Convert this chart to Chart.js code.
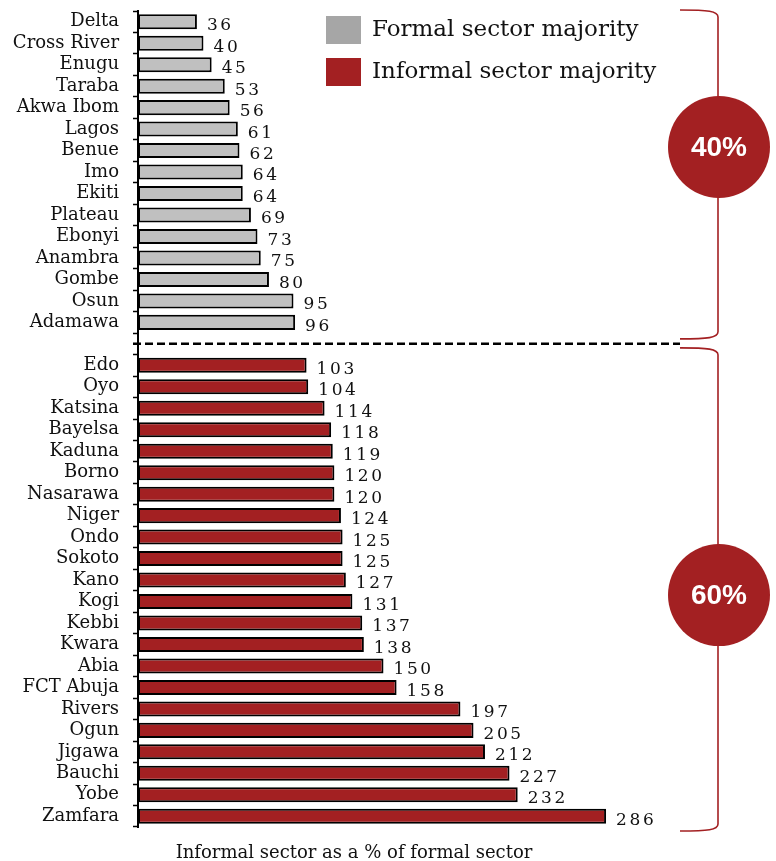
<!DOCTYPE html>
<html>
<head>
<meta charset="utf-8">
<script src="https://cdn.jsdelivr.net/npm/chart.js@4.4.1/dist/chart.umd.min.js"></script>
<style>
  html, body { margin: 0; padding: 0; background: #fff; }
  #wrap { width: 776px; height: 861px; position: relative; }
</style>
</head>
<body>
<div id="wrap"><canvas id="informalChart"></canvas></div>
<script>
// states where the formal sector is bigger
const formalStates = ['Delta', 'Cross River', 'Enugu', 'Taraba', 'Akwa Ibom', 'Lagos', 'Benue', 'Imo',
  'Ekiti', 'Plateau', 'Ebonyi', 'Anambra', 'Gombe', 'Osun', 'Adamawa'];
const formalValues = [36, 40, 45, 53, 56, 61, 62, 64, 64, 69, 73, 75, 80, 95, 96];

// states where the informal sector is bigger
const informalStates = ['Edo', 'Oyo', 'Katsina', 'Bayelsa', 'Kaduna', 'Borno', 'Nasarawa', 'Niger', 'Ondo',
  'Sokoto', 'Kano', 'Kogi', 'Kebbi', 'Kwara', 'Abia', 'FCT Abuja', 'Rivers', 'Ogun', 'Jigawa', 'Bauchi',
  'Yobe', 'Zamfara'];
const informalValues = [103, 104, 114, 118, 119, 120, 120, 124, 125, 125, 127, 131, 137, 138, 150, 158,
  197, 205, 212, 227, 232, 286];

const groupShares = ['40%', '60%'];
const legendLabels = ['Formal sector majority', 'Informal sector majority'];
const axisTitle = 'Informal sector as a % of formal sector';

const GRAY = '#c0c0c0';
const GRAY_LEGEND = '#a6a6a6';
const RED = '#a32022';
const SERIF = '"DejaVu Serif", serif';

// one empty slot between the two groups, the dashed line sits there
const labels = [...formalStates, '', ...informalStates];
const gapIndex = formalStates.length;
const formalData = labels.map((l, i) => (i < gapIndex ? formalValues[i] : null));
const informalData = labels.map((l, i) => (i > gapIndex ? informalValues[i - gapIndex - 1] : null));

// value labels, dashed divider, braces, circles, legend, axis title
const decorations = {
  id: 'decorations',
  afterDatasetsDraw(chart) {
    const ctx = chart.ctx;
    const area = chart.chartArea;
    const y = chart.scales.y;

    // value labels
    ctx.save();
    ctx.font = '17px ' + SERIF;
    ctx.fillStyle = '#111';
    ctx.textBaseline = 'middle';
    ctx.textAlign = 'left';
    ctx.letterSpacing = '2.6px';
    chart.data.datasets.forEach((ds, di) => {
      chart.getDatasetMeta(di).data.forEach((bar, i) => {
        if (ds.data[i] == null) return;
        ctx.fillText(String(ds.data[i]), bar.x + 10, bar.y + 4);
      });
    });
    ctx.restore();

    // dashed divider
    const gapY = y.getPixelForValue(gapIndex);
    ctx.save();
    ctx.strokeStyle = '#000';
    ctx.lineWidth = 2.5;
    ctx.setLineDash([8, 4]);
    ctx.beginPath();
    ctx.moveTo(area.left - 5, gapY);
    ctx.lineTo(area.right + 51, gapY);
    ctx.stroke();
    ctx.restore();

    // braces
    const bx = area.right + 89;
    const x0 = area.right + 51;
    const brace = (top, bottom) => {
      ctx.beginPath();
      ctx.moveTo(x0, top);
      ctx.bezierCurveTo(bx - 10, top, bx, top + 1, bx, top + 7);
      ctx.lineTo(bx, bottom - 7);
      ctx.bezierCurveTo(bx, bottom - 1, bx - 10, bottom, x0, bottom);
      ctx.stroke();
    };
    ctx.save();
    ctx.strokeStyle = RED;
    ctx.lineWidth = 1.6;
    brace(area.top - 1, gapY - 5);
    brace(gapY + 4, area.bottom + 4);
    ctx.restore();

    // circles
    const circle = (cy, text) => {
      ctx.beginPath();
      ctx.arc(bx + 1, cy, 51, 0, Math.PI * 2);
      ctx.fillStyle = RED;
      ctx.fill();
      ctx.fillStyle = '#fff';
      ctx.font = 'bold 28px "Liberation Sans", Arial, sans-serif';
      ctx.textAlign = 'center';
      ctx.textBaseline = 'middle';
      ctx.fillText(text, bx + 1, cy + 1);
    };
    ctx.save();
    circle(y.getPixelForValue(5.83), groupShares[0]);
    circle(y.getPixelForValue(26.7), groupShares[1]);
    ctx.restore();

    // legend
    ctx.save();
    const lx = area.left + 188;
    const swatch = [GRAY_LEGEND, RED];
    ctx.font = '23px ' + SERIF;
    ctx.textBaseline = 'middle';
    ctx.textAlign = 'left';
    legendLabels.forEach((text, i) => {
      const ty = area.top + 19 + i * 42;
      ctx.fillStyle = swatch[i];
      ctx.fillRect(lx, ty - 14, 35, 28);
      ctx.fillStyle = '#111';
      ctx.fillText(text, lx + 46, ty);
    });
    ctx.restore();

    // axis title
    ctx.save();
    ctx.font = '18px ' + SERIF;
    ctx.fillStyle = '#111';
    ctx.textAlign = 'center';
    ctx.textBaseline = 'middle';
    ctx.fillText(axisTitle, area.left + 216, area.bottom + 26);
    ctx.restore();
  }
};

new Chart(document.getElementById('informalChart').getContext('2d'), {
  type: 'bar',
  data: {
    labels: labels,
    datasets: [
      {
        label: legendLabels[0],
        data: formalData,
        backgroundColor: GRAY,
        borderColor: '#000',
        borderWidth: 2,
        borderSkipped: false
      },
      {
        label: legendLabels[1],
        data: informalData,
        backgroundColor: RED,
        borderColor: '#000',
        borderWidth: 2,
        borderSkipped: false
      }
    ]
  },
  options: {
    indexAxis: 'y',
    responsive: true,
    maintainAspectRatio: false,
    animation: false,
    skipNull: true,
    categoryPercentage: 1,
    barPercentage: 0.7,
    layout: { padding: { top: 11, bottom: 34, left: 0, right: 147 } },
    plugins: {
      legend: { display: false },
      tooltip: { enabled: false }
    },
    scales: {
      x: {
        display: false,
        min: 0,
        max: 300
      },
      y: {
        afterFit(scale) {
          scale.width = 138;
          scale.paddingTop = 0;
          scale.paddingBottom = 0;
        },
        grid: {
          offset: true,
          drawOnChartArea: false,
          tickLength: 5,
          tickWidth: 1.5,
          tickColor: '#000'
        },
        border: { color: '#000', width: 2 },
        ticks: {
          autoSkip: false,
          padding: 14,
          color: '#111',
          font: { family: '"DejaVu Serif", serif', size: 18 }
        }
      }
    }
  },
  plugins: [decorations]
});
</script>
</body>
</html>
